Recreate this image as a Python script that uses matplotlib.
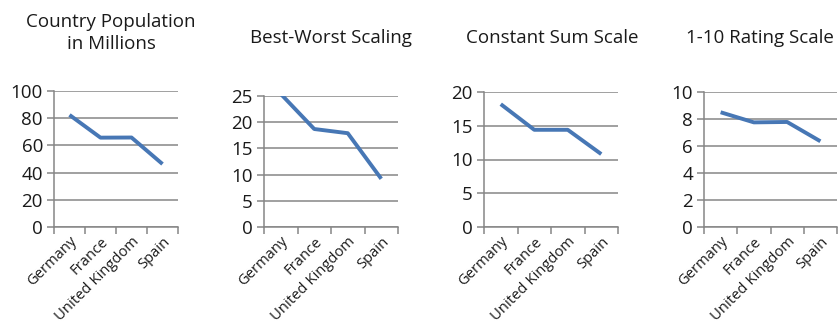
import matplotlib
matplotlib.use("Agg")
import matplotlib.pyplot as plt
from matplotlib.ticker import FixedLocator

plt.rcParams['font.family'] = ['Open Sans', 'DejaVu Sans']

countries = ["Germany", "France", "United Kingdom", "Spain"]

population = [82.4, 65.7, 65.8, 46.3]
best_worst = [25.4, 18.7, 17.9, 9.2]
constant_sum = [18.2, 14.4, 14.4, 10.8]
rating = [8.5, 7.75, 7.78, 6.35]

titles = ["Country Population\nin Millions", "Best-Worst Scaling",
          "Constant Sum Scale", "1-10 Rating Scale"]
series = [population, best_worst, constant_sum, rating]
y_max = [100, 25, 20, 10]
y_step = [20, 5, 5, 2]

W, H = 839, 329
# axes boxes in pixels: left, right, top, bottom
boxes = [(54, 178, 91, 227), (264, 398, 96, 227),
         (484, 618, 92, 227), (704, 837, 92, 227)]
title_x = [111, 331, 552, 760]
title_y = [33, 38, 38, 38]

line_color = "#4777B5"
grid_color = "#868686"
text_color = "#1a1a1a"

fig = plt.figure(figsize=(W / 100, H / 100), dpi=100)
fig.patch.set_facecolor("white")

for i in range(4):
    l, r, t, b = boxes[i]
    ax = fig.add_axes([l / W, 1 - b / H, (r - l) / W, (b - t) / H])
    x = list(range(len(countries)))
    ax.plot(x, series[i], color=line_color, lw=2.8, solid_capstyle="butt",
            solid_joinstyle="round", zorder=3)
    ax.set_xlim(-0.5, len(countries) - 0.5)
    ax.set_ylim(0, y_max[i])
    ax.set_yticks(list(range(0, y_max[i] + 1, y_step[i])))
    ax.yaxis.grid(True, color=grid_color, lw=1.1)
    ax.set_axisbelow(True)
    for s in ("top", "right"):
        ax.spines[s].set_visible(False)
    for s in ("left", "bottom"):
        ax.spines[s].set_color(grid_color)
        ax.spines[s].set_linewidth(1.1)
    ax.set_xticks(x)
    ax.set_xticklabels(countries, rotation=45, ha="right",
                       rotation_mode="anchor", fontsize=10.6, color=text_color)
    ax.tick_params(axis="x", which="major", length=0, pad=5)
    ax.xaxis.set_minor_locator(FixedLocator([k - 0.5 for k in range(len(countries) + 1)]))
    ax.tick_params(axis="x", which="minor", length=5, color=grid_color, width=1.1)
    ax.tick_params(axis="y", length=5, color=grid_color, width=1.1,
                   labelsize=13.5, labelcolor=text_color, pad=3)
    fig.text(title_x[i] / W, 1 - title_y[i] / H, titles[i], ha="center",
             va="center", fontsize=13.5, color=text_color, linespacing=1.3)

fig.savefig("out.png", dpi=100, facecolor="white")
